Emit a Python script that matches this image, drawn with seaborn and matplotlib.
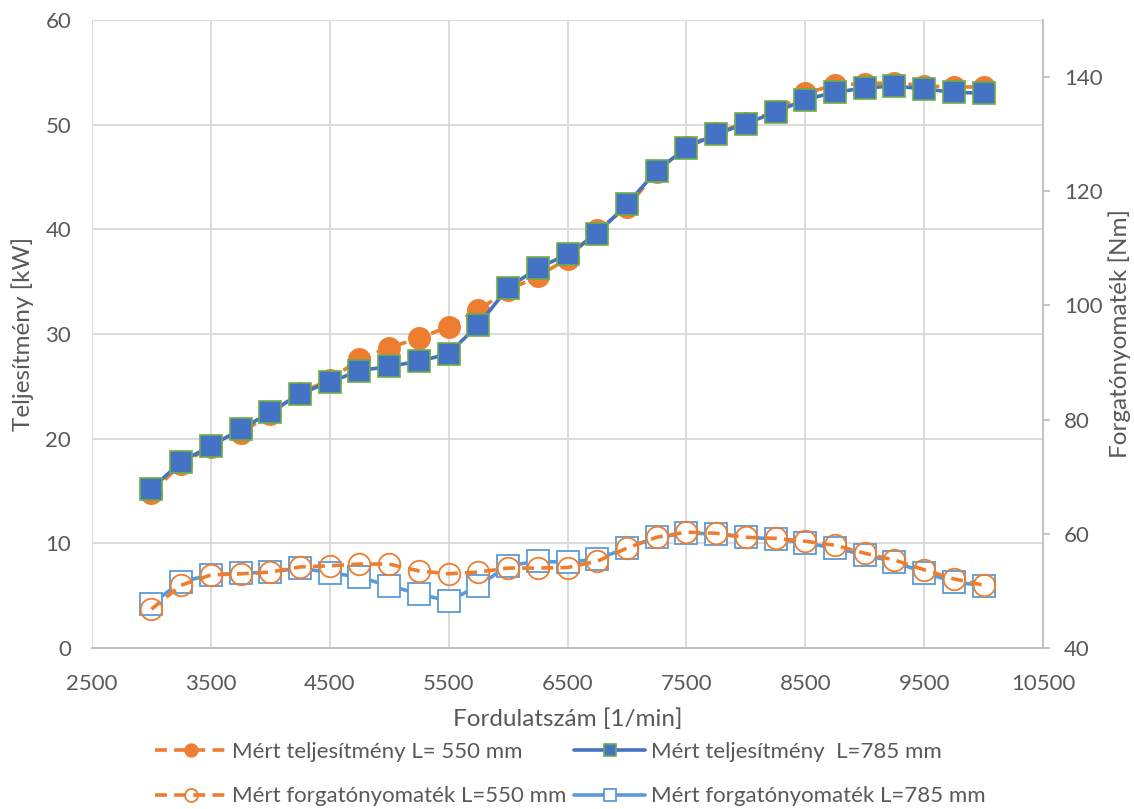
import numpy as np
import seaborn as sns
import matplotlib.pyplot as plt

# fordulatszam [1/min]
rpm = [3000, 3250, 3500, 3750, 4000, 4250, 4500, 4750, 5000, 5250, 5500, 5750, 6000, 6250, 6500,
       6750, 7000, 7250, 7500, 7750, 8000, 8250, 8500, 8750, 9000, 9250, 9500, 9750, 10000]

# teljesitmeny [kW]
p_550 = [14.8, 17.6, 19.2, 20.5, 22.4, 24.4, 25.6, 27.6, 28.7, 29.6, 30.7, 32.3, 34.2, 35.5, 37.2,
         39.9, 42.1, 45.5, 47.9, 49.2, 50.2, 51.3, 53.0, 53.8, 53.9, 54.0, 53.7, 53.6, 53.6]
p_785 = [15.2, 17.8, 19.3, 20.9, 22.5, 24.3, 25.4, 26.5, 26.9, 27.4, 28.1, 30.9, 34.4, 36.3, 37.6,
         39.6, 42.4, 45.6, 47.8, 49.1, 50.1, 51.2, 52.4, 53.1, 53.5, 53.7, 53.4, 53.1, 53.0]

# forgatonyomatek [Nm]
m_550 = [46.8, 51.0, 52.8, 53.0, 53.3, 54.2, 54.4, 54.7, 54.7, 53.5, 53.0, 53.3, 54.0, 54.0, 54.1,
         55.2, 57.5, 59.4, 60.3, 60.1, 59.4, 59.2, 58.7, 58.0, 56.6, 55.4, 53.7, 52.1, 51.0]
m_785 = [47.7, 51.6, 52.8, 53.1, 53.3, 54.0, 53.2, 52.4, 50.9, 49.5, 48.2, 50.9, 54.4, 55.2, 55.0,
         55.6, 57.5, 59.4, 60.1, 60.0, 59.4, 59.1, 58.4, 57.5, 56.3, 55.1, 53.2, 51.6, 50.9]

x_ticks = [2500, 3500, 4500, 5500, 6500, 7500, 8500, 9500, 10500]
y_ticks = [0, 10, 20, 30, 40, 50, 60]
y2_ticks = [40, 60, 80, 100, 120, 140]

labels = ['Mért teljesítmény L= 550 mm', 'Mért teljesítmény  L=785 mm',
          'Mért forgatónyomaték L=550 mm', 'Mért forgatónyomaték L=785 mm']

orange = '#ED7D31'
blue = '#4472C4'
lblue = '#5B9BD5'
green = '#70AD47'
txt = '#595959'

sns.set_style('white')
plt.rcParams['font.family'] = ['Lato', 'DejaVu Sans']
plt.rcParams['text.color'] = txt

fig = plt.figure(figsize=(11.34, 8.09), dpi=100)
ax = fig.add_axes([0.0811, 0.199, 0.8387, 0.7763])
ax2 = ax.twinx()

sns.lineplot(x=rpm, y=p_550, ax=ax, color=orange, lw=2.6, linestyle=(0, (3.3, 2)),
             marker='o', markersize=15.5, markerfacecolor=orange, markeredgecolor=orange,
             markeredgewidth=1, label=labels[0], legend=False)
sns.lineplot(x=rpm, y=p_785, ax=ax, color=blue, lw=2.6,
             marker='s', markersize=15.5, markerfacecolor=blue, markeredgecolor=green,
             markeredgewidth=1.2, label=labels[1], legend=False)
sns.lineplot(x=rpm, y=m_785, ax=ax2, color=lblue, lw=2.6,
             marker='s', markersize=15.5, markerfacecolor='white', markeredgecolor=lblue,
             markeredgewidth=1.3, label=labels[3], legend=False, zorder=2)
sns.lineplot(x=rpm, y=m_550, ax=ax2, color=orange, lw=2.6, linestyle=(0, (3.3, 2)),
             marker='o', markersize=15.5, markerfacecolor='none', markeredgecolor=orange,
             markeredgewidth=1.3, label=labels[2], legend=False, zorder=3)

ax.set_xlim(2500, 10500)
ax.set_ylim(0, 60)
ax2.set_ylim(40, 150)
ax.set_xticks(x_ticks)
ax.set_yticks(y_ticks)
ax2.set_yticks(y2_ticks)

ax.grid(True, color='#d9d9d9', lw=1.3)
ax.set_axisbelow(True)
for a in (ax, ax2):
    for s in ('top', 'left', 'right'):
        a.spines[s].set_visible(False)
    a.spines['bottom'].set_color('#bfbfbf')
    a.spines['bottom'].set_linewidth(1.3)
    a.tick_params(length=0, labelsize=16, labelcolor=txt)
ax2.spines['right'].set_visible(True)
ax2.spines['right'].set_color('#bfbfbf')
ax2.spines['right'].set_linewidth(1.3)
ax.tick_params(axis='x', pad=19)
ax.tick_params(axis='y', pad=15)
ax2.tick_params(axis='y', length=5, width=1.3, color='#bfbfbf', direction='out', pad=10)

ax.set_xlabel('Fordulatszám [1/min]', fontsize=17.5, color=txt, labelpad=10)
ax.set_ylabel('Teljesítmény [kW]', fontsize=17.5, color=txt, labelpad=8)
ax2.set_ylabel('Forgatónyomaték [Nm]', fontsize=17.5, color=txt, labelpad=4)

h1, _ = ax.get_legend_handles_labels()
h2, _ = ax2.get_legend_handles_labels()
handles = [h1[0], h2[1], h1[1], h2[0]]
leg_labels = [labels[0], labels[2], labels[1], labels[3]]
fig.legend(handles, leg_labels, loc='center', bbox_to_anchor=(0.503, 0.043), ncol=2,
           frameon=False, fontsize=16, handlelength=3.2, labelspacing=1.1,
           columnspacing=0.35, handletextpad=0.25, markerscale=0.6)

fig.savefig('out.png', dpi=100)
